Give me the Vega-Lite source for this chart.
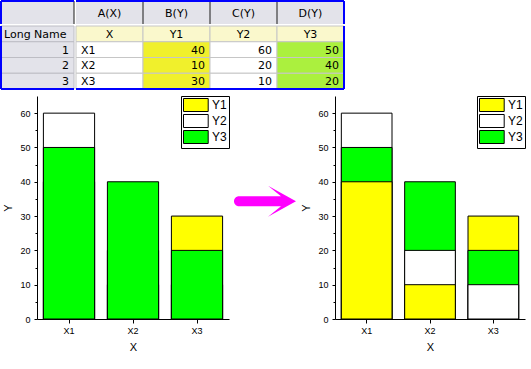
{
  "$schema": "https://vega.github.io/schema/vega-lite/v6.json",
  "padding": 0,
  "background": "white",
  "config": {
    "view": {"stroke": null},
    "axis": {"labelFont": "Liberation Sans", "titleFont": "Liberation Sans", "labelColor": "black", "titleColor": "black", "domainColor": "black", "tickColor": "black", "titleFontWeight": "normal", "grid": false, "labelFontSize": 9, "titleFontSize": 11, "tickSize": 3},
    "legend": {"strokeColor": "black", "fillColor": "white", "padding": 2, "symbolType": "M-1,-1H2.8V1H-1Z", "symbolSize": 169, "symbolStrokeColor": "black", "symbolStrokeWidth": 1, "symbolOpacity": 1, "labelFont": "Liberation Sans", "labelFontSize": 12, "labelColor": "black", "labelOffset": 15, "rowPadding": -7, "cornerRadius": 0},
    "text": {"font": "DejaVu Sans", "fontSize": 11, "color": "black"}
  },
  "datasets": {
    "bars": [
      {"x": "X1", "s": "Y1", "v": 40}, {"x": "X1", "s": "Y2", "v": 60}, {"x": "X1", "s": "Y3", "v": 50},
      {"x": "X2", "s": "Y1", "v": 10}, {"x": "X2", "s": "Y2", "v": 20}, {"x": "X2", "s": "Y3", "v": 40},
      {"x": "X3", "s": "Y1", "v": 30}, {"x": "X3", "s": "Y2", "v": 10}, {"x": "X3", "s": "Y3", "v": 20}
    ],
    "cells": [
      {"r": "Long Name", "c": "A(X)", "t": "X"}, {"r": "Long Name", "c": "B(Y)", "t": "Y1"}, {"r": "Long Name", "c": "C(Y)", "t": "Y2"}, {"r": "Long Name", "c": "D(Y)", "t": "Y3"},
      {"r": "1", "c": "A(X)", "t": "X1"}, {"r": "1", "c": "B(Y)", "t": "40"}, {"r": "1", "c": "C(Y)", "t": "60"}, {"r": "1", "c": "D(Y)", "t": "50"},
      {"r": "2", "c": "A(X)", "t": "X2"}, {"r": "2", "c": "B(Y)", "t": "10"}, {"r": "2", "c": "C(Y)", "t": "20"}, {"r": "2", "c": "D(Y)", "t": "40"},
      {"r": "3", "c": "A(X)", "t": "X3"}, {"r": "3", "c": "B(Y)", "t": "30"}, {"r": "3", "c": "C(Y)", "t": "10"}, {"r": "3", "c": "D(Y)", "t": "20"}
    ]
  },
  "spacing": 5,
  "vconcat": [
    {
      "spacing": 0,
      "vconcat": [
        {
          "spacing": 0,
          "hconcat": [
            {
              "width": 73, "height": 23,
              "data": {"values": [{"c": "corner", "r": "hdr"}]},
              "layer": [
                {"mark": {"type": "rect", "fill": "#E3E3EA"},
                 "encoding": {
                   "x": {"field": "c", "type": "nominal", "axis": null, "scale": {"type": "band", "paddingInner": 0, "paddingOuter": 0}},
                   "y": {"field": "r", "type": "nominal", "axis": null, "scale": {"type": "band", "paddingInner": 0, "paddingOuter": 0}}}},
                {"mark": {"type": "rule", "color": "#1a1a1a", "strokeWidth": 1},
                 "encoding": {"x": {"field": "c", "type": "nominal", "axis": null, "bandPosition": 1}}},
                {"mark": {"type": "rule", "color": "#0000FF", "strokeWidth": 2},
                 "encoding": {"x": {"field": "c", "type": "nominal", "axis": null, "bandPosition": 0}}},
                {"mark": {"type": "rule", "color": "#0000FF", "strokeWidth": 2},
                 "encoding": {"y": {"field": "r", "type": "nominal", "axis": null, "bandPosition": 0}}}
              ]
            },
            {
              "width": 268, "height": 23,
              "data": {"values": [{"c": "A(X)", "r": "hdr"}, {"c": "B(Y)", "r": "hdr"}, {"c": "C(Y)", "r": "hdr"}, {"c": "D(Y)", "r": "hdr"}]},
              "layer": [
                {"mark": {"type": "rect", "fill": "#E3E3EA"},
                 "encoding": {
                   "x": {"field": "c", "type": "nominal", "axis": null, "scale": {"type": "band", "domain": ["A(X)", "B(Y)", "C(Y)", "D(Y)"], "paddingInner": 0, "paddingOuter": 0}},
                   "y": {"field": "r", "type": "nominal", "axis": null, "scale": {"type": "band", "paddingInner": 0, "paddingOuter": 0}}}},
                {"mark": {"type": "rule", "color": "#1a1a1a", "strokeWidth": 1},
                 "encoding": {"x": {"field": "c", "type": "nominal", "axis": null, "bandPosition": 1}}},
                {"mark": {"type": "text", "baseline": "middle", "align": "center", "dy": 1},
                 "encoding": {
                   "x": {"field": "c", "type": "nominal", "axis": null, "bandPosition": 0.5},
                   "y": {"field": "r", "type": "nominal", "axis": null, "bandPosition": 0.5},
                   "text": {"field": "c"}}},
                {"transform": [{"filter": "datum.c === 'D(Y)'"}],
                 "mark": {"type": "rule", "color": "#0000FF", "strokeWidth": 2},
                 "encoding": {"x": {"field": "c", "type": "nominal", "axis": null, "bandPosition": 1}}},
                {"mark": {"type": "rule", "color": "#0000FF", "strokeWidth": 2},
                 "encoding": {"y": {"field": "r", "type": "nominal", "axis": null, "bandPosition": 0}}}
              ]
            }
          ]
        },
        {
          "spacing": 0,
          "hconcat": [
            {
              "width": 73, "height": 63,
              "data": {"values": [{"r": "Long Name", "c": "rowhdr"}, {"r": "1", "c": "rowhdr"}, {"r": "2", "c": "rowhdr"}, {"r": "3", "c": "rowhdr"}]},
              "layer": [
                {"mark": {"type": "rect", "fill": "#E3E3EA", "stroke": "#BDBDC4", "strokeWidth": 1},
                 "encoding": {
                   "x": {"field": "c", "type": "nominal", "axis": null, "scale": {"type": "band", "paddingInner": 0, "paddingOuter": 0}},
                   "y": {"field": "r", "type": "nominal", "axis": null, "scale": {"type": "band", "domain": ["Long Name", "1", "2", "3"], "paddingInner": 0, "paddingOuter": 0}}}},
                {"transform": [{"filter": "datum.r === 'Long Name'"}],
                 "mark": {"type": "text", "baseline": "middle", "align": "left", "dx": 3, "dy": 1},
                 "encoding": {
                   "x": {"field": "c", "type": "nominal", "axis": null, "bandPosition": 0},
                   "y": {"field": "r", "type": "nominal", "axis": null, "bandPosition": 0.5},
                   "text": {"field": "r"}}},
                {"transform": [{"filter": "datum.r !== 'Long Name'"}],
                 "mark": {"type": "text", "baseline": "middle", "align": "right", "dx": -5, "dy": 1},
                 "encoding": {
                   "x": {"field": "c", "type": "nominal", "axis": null, "bandPosition": 1},
                   "y": {"field": "r", "type": "nominal", "axis": null, "bandPosition": 0.5},
                   "text": {"field": "r"}}},
                {"mark": {"type": "rule", "color": "#0000FF", "strokeWidth": 2},
                 "encoding": {"x": {"field": "c", "type": "nominal", "axis": null, "bandPosition": 0}}},
                {"transform": [{"filter": "datum.r === '3'"}],
                 "mark": {"type": "rule", "color": "#0000FF", "strokeWidth": 2},
                 "encoding": {"y": {"field": "r", "type": "nominal", "axis": null, "bandPosition": 1}}}
              ]
            },
            {
              "width": 268, "height": 63,
              "data": {"name": "cells"},
              "layer": [
                {"mark": {"type": "rect", "stroke": "#C6C6C6", "strokeWidth": 1},
                 "encoding": {
                   "x": {"field": "c", "type": "nominal", "axis": null, "scale": {"type": "band", "domain": ["A(X)", "B(Y)", "C(Y)", "D(Y)"], "paddingInner": 0, "paddingOuter": 0}},
                   "y": {"field": "r", "type": "nominal", "axis": null, "scale": {"type": "band", "domain": ["Long Name", "1", "2", "3"], "paddingInner": 0, "paddingOuter": 0}},
                   "fill": {"condition": {"test": "datum.r === 'Long Name'", "value": "#FAF8CC"}, "field": "c", "type": "nominal", "legend": null,
                            "scale": {"domain": ["A(X)", "B(Y)", "C(Y)", "D(Y)"], "range": ["#FFFFFF", "#F0F02C", "#FFFFFF", "#ABF03E"]}}}},
                {"transform": [{"filter": "datum.r === 'Long Name'"}],
                 "mark": {"type": "text", "baseline": "middle", "align": "center", "dy": 1},
                 "encoding": {
                   "x": {"field": "c", "type": "nominal", "axis": null, "bandPosition": 0.5},
                   "y": {"field": "r", "type": "nominal", "axis": null, "bandPosition": 0.5},
                   "text": {"field": "t"}}},
                {"transform": [{"filter": "datum.r !== 'Long Name' && datum.c === 'A(X)'"}],
                 "mark": {"type": "text", "baseline": "middle", "align": "left", "dx": 5, "dy": 1},
                 "encoding": {
                   "x": {"field": "c", "type": "nominal", "axis": null, "bandPosition": 0},
                   "y": {"field": "r", "type": "nominal", "axis": null, "bandPosition": 0.5},
                   "text": {"field": "t"}}},
                {"transform": [{"filter": "datum.r !== 'Long Name' && datum.c !== 'A(X)'"}],
                 "mark": {"type": "text", "baseline": "middle", "align": "right", "dx": -5, "dy": 1},
                 "encoding": {
                   "x": {"field": "c", "type": "nominal", "axis": null, "bandPosition": 1},
                   "y": {"field": "r", "type": "nominal", "axis": null, "bandPosition": 0.5},
                   "text": {"field": "t"}}},
                {"transform": [{"filter": "datum.c === 'D(Y)' && datum.r === '1'"}],
                 "mark": {"type": "rule", "color": "#0000FF", "strokeWidth": 2},
                 "encoding": {"x": {"field": "c", "type": "nominal", "axis": null, "bandPosition": 1}}},
                {"transform": [{"filter": "datum.r === '3' && datum.c === 'A(X)'"}],
                 "mark": {"type": "rule", "color": "#0000FF", "strokeWidth": 2},
                 "encoding": {"y": {"field": "r", "type": "nominal", "axis": null, "bandPosition": 1}}}
              ]
            }
          ]
        }
      ]
    },
    {
      "spacing": 0,
      "resolve": {"legend": {"color": "independent"}},
      "hconcat": [
        {
          "width": 1, "height": 223,
          "data": {"values": [{"sx": 0}]},
          "mark": {"type": "point", "opacity": 0, "size": 1},
          "encoding": {
            "x": {"field": "sx", "type": "quantitative", "axis": null, "scale": {"domain": [0, 1]}}
          }
        },
        {
          "width": 192, "height": 223,
          "data": {"name": "bars"},
          "resolve": {"axis": {"y": "independent"}},
          "layer": [
            {
              "mark": {"type": "bar", "stroke": "black", "strokeWidth": 1},
              "encoding": {
                "x": {"field": "x", "type": "nominal", "title": "X", "scale": {"paddingInner": 0.2, "paddingOuter": 0.1}, "axis": {"labelAngle": 0, "labelPadding": 3, "titlePadding": 6, "tickSize": 4}},
                "y": {"field": "v", "type": "quantitative", "title": "Y", "stack": null, "scale": {"domain": [0, 65], "nice": false}, "axis": {"orient": "left", "values": [0, 10, 20, 30, 40, 50, 60], "labelPadding": 4, "titlePadding": 6}},
                "color": {"field": "s", "type": "nominal", "scale": {"domain": ["Y1", "Y2", "Y3"], "range": ["#FFFF00", "#FFFFFF", "#00FF00"]}, "legend": {"orient": "top-right", "offset": 0, "title": null}},
                "order": {"field": "s", "type": "ordinal", "sort": "ascending"}
              }
            },
            {
              "mark": {"type": "rule", "opacity": 0},
              "encoding": {
                "y": {"field": "v", "type": "quantitative", "axis": {"orient": "left", "values": [5, 15, 25, 35, 45, 55], "labels": false, "domain": false, "tickSize": 2, "title": null}}
              }
            }
          ]
        },
        {
          "width": 70, "height": 223,
          "data": {"values": [{"ax": 0.5, "ay": 34.3}]},
          "mark": {"type": "point", "shape": "M -0.839 -0.161 L 0.516 -0.161 L 0.097 -0.5 L 1 0 L 0.097 0.5 L 0.516 0.161 L -0.839 0.161 A 0.161 0.161 0 0 1 -0.839 -0.161 Z", "size": 3844, "filled": true, "color": "#FF00FF", "opacity": 1, "strokeWidth": 0},
          "encoding": {
            "x": {"field": "ax", "type": "quantitative", "axis": null, "scale": {"domain": [0, 1]}},
            "y": {"field": "ay", "type": "quantitative", "axis": null, "scale": {"domain": [0, 65]}}
          }
        },
        {
          "width": 190, "height": 223,
          "data": {"name": "bars"},
          "resolve": {"axis": {"y": "independent"}},
          "layer": [
            {
              "mark": {"type": "bar", "stroke": "black", "strokeWidth": 1},
              "encoding": {
                "x": {"field": "x", "type": "nominal", "title": "X", "scale": {"paddingInner": 0.2, "paddingOuter": 0.1}, "axis": {"labelAngle": 0, "labelPadding": 3, "titlePadding": 6, "tickSize": 4}},
                "y": {"field": "v", "type": "quantitative", "title": "Y", "stack": null, "scale": {"domain": [0, 65], "nice": false}, "axis": {"orient": "left", "values": [0, 10, 20, 30, 40, 50, 60], "labelPadding": 4, "titlePadding": 6}},
                "color": {"field": "s", "type": "nominal", "scale": {"domain": ["Y1", "Y2", "Y3"], "range": ["#FFFF00", "#FFFFFF", "#00FF00"]}, "legend": {"orient": "top-right", "offset": 0, "title": null}},
                "order": {"field": "v", "type": "quantitative", "sort": "descending"}
              }
            },
            {
              "mark": {"type": "rule", "opacity": 0},
              "encoding": {
                "y": {"field": "v", "type": "quantitative", "axis": {"orient": "left", "values": [5, 15, 25, 35, 45, 55], "labels": false, "domain": false, "tickSize": 2, "title": null}}
              }
            }
          ]
        }
      ]
    }
  ]
}
